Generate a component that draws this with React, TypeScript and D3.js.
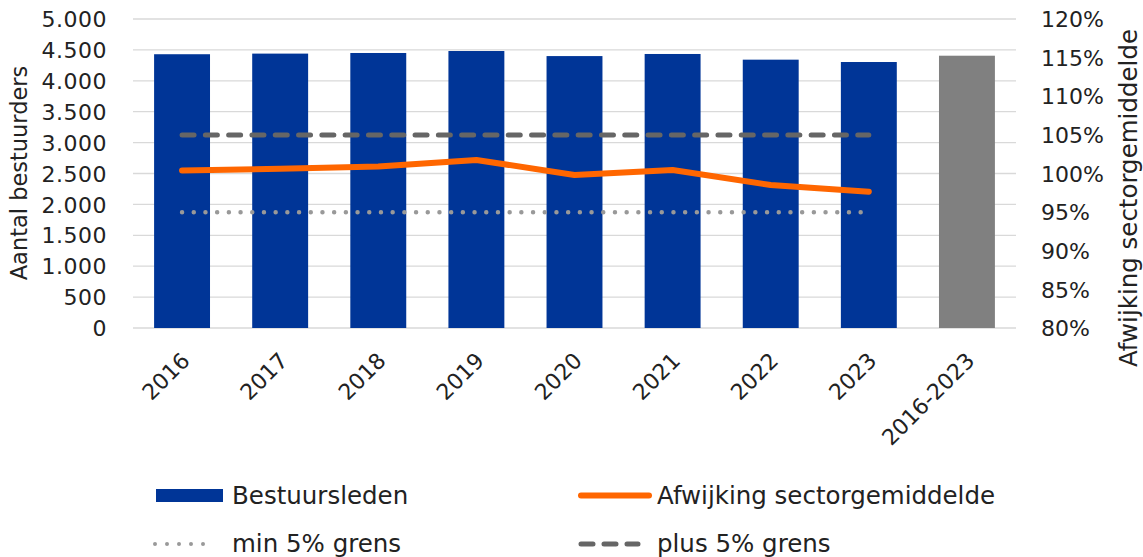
import { useEffect, useRef } from 'react'
import * as d3 from 'd3'

const categories = ['2016', '2017', '2018', '2019', '2020', '2021', '2022', '2023', '2016-2023']
const bestuursleden = [4430, 4440, 4450, 4482, 4400, 4434, 4342, 4304, 4406]
const afwijking = [100.4, 100.6, 100.9, 101.75, 99.8, 100.45, 98.5, 97.65]
const minGrens = [95, 95, 95, 95, 95, 95, 95, 95]
const plusGrens = [105, 105, 105, 105, 105, 105, 105, 105]
const leftTicks = [0, 500, 1000, 1500, 2000, 2500, 3000, 3500, 4000, 4500, 5000]
const rightTicks = [80, 85, 90, 95, 100, 105, 110, 115, 120]

const FONT = '"DejaVu Sans", sans-serif'

export default function App() {
  const ref = useRef<SVGSVGElement>(null)
  const width = 1143
  const height = 557

  useEffect(() => {
    const el = ref.current
    if (!el) return
    const svg = d3.select(el)
    svg.selectAll('*').remove()

    const left = 133
    const right = 1016
    const top = 19
    const bottom = 328

    const x = d3.scaleBand().domain(categories).range([left, right]).paddingInner(0.43).paddingOuter(0.215)
    const y = d3.scaleLinear().domain([0, 5000]).range([bottom, top])
    const y2 = d3.scaleLinear().domain([80, 120]).range([bottom, top])
    const cx = (c: string) => (x(c) ?? 0) + x.bandwidth() / 2

    // gridlines
    svg.append('g')
      .selectAll('line')
      .data(leftTicks)
      .join('line')
      .attr('x1', left)
      .attr('x2', right)
      .attr('y1', (d) => y(d))
      .attr('y2', (d) => y(d))
      .attr('stroke', '#d9d9d9')
      .attr('stroke-width', 1.3)

    // bars
    svg.append('g')
      .selectAll('rect')
      .data(categories)
      .join('rect')
      .attr('x', (d) => x(d) ?? 0)
      .attr('y', (d, i) => y(bestuursleden[i]))
      .attr('width', x.bandwidth())
      .attr('height', (d, i) => bottom - y(bestuursleden[i]))
      .attr('fill', (d, i) => (i === categories.length - 1 ? '#808080' : '#003597'))

    const years = categories.slice(0, 8)
    const line = (vals: number[]) =>
      d3.line<string>().x((d) => cx(d)).y((d, i) => y2(vals[i]))(years)

    svg.append('path')
      .attr('d', line(minGrens))
      .attr('fill', 'none')
      .attr('stroke', '#999')
      .attr('stroke-width', 4.5)
      .attr('stroke-linecap', 'round')
      .attr('stroke-dasharray', '0 11.7')

    svg.append('path')
      .attr('d', line(plusGrens))
      .attr('fill', 'none')
      .attr('stroke', '#666')
      .attr('stroke-width', 5)
      .attr('stroke-linecap', 'round')
      .attr('stroke-dasharray', '12 11.3')

    svg.append('path')
      .attr('d', line(afwijking))
      .attr('fill', 'none')
      .attr('stroke', '#ff6600')
      .attr('stroke-width', 6)
      .attr('stroke-linecap', 'round')
      .attr('stroke-linejoin', 'round')

    const fmt = (d: number) => d3.format(',')(d).replace(/,/g, '.')

    // left axis labels
    svg.append('g')
      .selectAll('text')
      .data(leftTicks)
      .join('text')
      .attr('x', 107)
      .attr('y', (d) => y(d))
      .attr('dy', '0.37em')
      .attr('text-anchor', 'end')
      .attr('font-family', FONT)
      .attr('font-size', 22)
      .attr('letter-spacing', 0.5)
      .attr('fill', '#222')
      .text(fmt)

    // right axis labels
    svg.append('g')
      .selectAll('text')
      .data(rightTicks)
      .join('text')
      .attr('x', 1041)
      .attr('y', (d) => y2(d))
      .attr('dy', '0.37em')
      .attr('font-family', FONT)
      .attr('font-size', 22)
      .attr('fill', '#222')
      .text((d) => `${d}%`)

    svg.append('text')
      .attr('transform', `translate(27,173) rotate(-90)`)
      .attr('text-anchor', 'middle')
      .attr('font-family', FONT)
      .attr('font-size', 22.5)
      .attr('fill', '#222')
      .text('Aantal bestuurders')

    svg.append('text')
      .attr('transform', `translate(1137,198) rotate(-90)`)
      .attr('text-anchor', 'middle')
      .attr('font-family', FONT)
      .attr('font-size', 24.5)
      .attr('fill', '#222')
      .text('Afwijking sectorgemiddelde')

    // x labels
    svg.append('g')
      .selectAll('text')
      .data(categories)
      .join('text')
      .attr('transform', (d) => `translate(${cx(d) + 9},362) rotate(-45)`)
      .attr('text-anchor', 'end')
      .attr('font-family', FONT)
      .attr('font-size', 22)
      .attr('fill', '#222')
      .text((d) => d)

    // legend
    const lg = svg.append('g').attr('font-family', FONT).attr('font-size', 24.5).attr('fill', '#222')
    lg.append('rect').attr('x', 156).attr('y', 489).attr('width', 67).attr('height', 13).attr('fill', '#003597')
    lg.append('text').attr('x', 232).attr('y', 504).text('Bestuursleden')
    lg.append('line').attr('x1', 581).attr('x2', 649).attr('y1', 495.5).attr('y2', 495.5)
      .attr('stroke', '#ff6600').attr('stroke-width', 6).attr('stroke-linecap', 'round')
    lg.append('text').attr('x', 657).attr('y', 504).text('Afwijking sectorgemiddelde')
    lg.append('line').attr('x1', 155).attr('x2', 215).attr('y1', 544).attr('y2', 544)
      .attr('stroke', '#999').attr('stroke-width', 4).attr('stroke-linecap', 'round').attr('stroke-dasharray', '0 12')
    lg.append('text').attr('x', 232).attr('y', 552).text('min 5% grens')
    lg.append('line').attr('x1', 581).attr('x2', 638).attr('y1', 544).attr('y2', 544)
      .attr('stroke', '#666').attr('stroke-width', 5).attr('stroke-linecap', 'round').attr('stroke-dasharray', '12 11')
    lg.append('text').attr('x', 657).attr('y', 552).text('plus 5% grens')
  }, [])

  return (
    <svg
      ref={ref}
      width={width}
      height={height}
      style={{ position: 'absolute', left: 0, top: 0, background: '#fff' }}
    />
  )
}
